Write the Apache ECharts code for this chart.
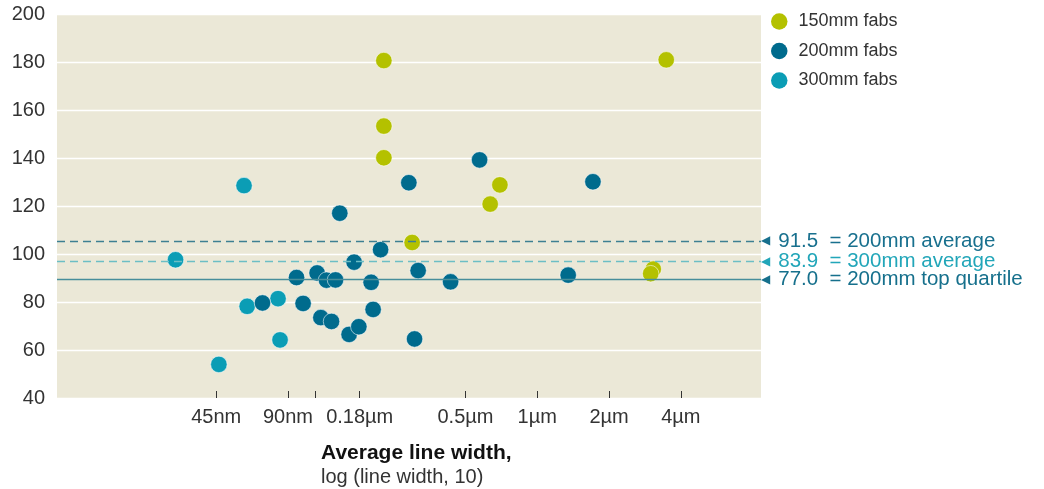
<!DOCTYPE html>
<html>
<head>
<meta charset="utf-8">
<script src="https://cdn.jsdelivr.net/npm/echarts@6/dist/echarts.min.js"></script>
<style>
html,body{margin:0;padding:0;background:#fff;}
#chart{width:1044px;height:489px;}
</style>
</head>
<body>
<div id="chart"></div>
<script>
// Series names
const seriesNames = ['150mm fabs', '200mm fabs', '300mm fabs'];

// Line width (µm) and value pairs per series
const widths150 = [0.2273, 0.2273, 0.2273, 3.475, 0.697, 0.6346, 0.2987, 3.066, 2.99];
const values150 = [180.6, 153.3, 140.1, 180.9, 128.8, 120.8, 104.8, 93.7, 91.8];

const widths200 = [0.5729, 0.2893, 1.712, 0.1485, 0.2202, 0.1705, 0.3165, 1.348, 0.4330, 0.0978,
                   0.1193, 0.1306, 0.1425, 0.2010, 0.0704, 0.1042, 0.1237, 0.1371, 0.2049, 0.1625,
                   0.1785, 0.3057];
const values200 = [139.2, 129.7, 130.1, 117.0, 101.8, 96.6, 93.1, 91.2, 88.4, 90.2,
                   92.1, 89.1, 89.2, 88.2, 79.6, 79.4, 73.5, 71.9, 76.9, 66.5,
                   69.7, 64.6];

const widths300 = [0.0589, 0.0304, 0.0607, 0.0818, 0.0834, 0.0462];
const values300 = [128.5, 97.6, 78.2, 81.4, 64.2, 54.0];

// Reference lines
const refValues = [105.4, 96.9, 89.4];
const refLabels = ['91.5  = 200mm average', '83.9  = 300mm average', '77.0  = 200mm top quartile'];

// X tick marks (µm) and labels
const tickWidths = [0.045, 0.09, 0.1175, 0.18, 0.5, 1, 2, 4];
const tickLabels = ['45nm', '90nm', '', '0.18µm', '0.5µm', '1µm', '2µm', '4µm'];

// Y axis
const yMin = 40, yMax = 200, yInterval = 20;

const colors = ['#b4c100', '#006b8d', '#0b9db5'];
const refLineColors = ['#3d7f92', '#6cbec5', '#478e9b'];
const refTextColors = ['#18708e', '#22a6b9', '#16708c'];
const refLineTypes = [[8, 5], [8, 5], 'solid'];

const FONT = 'Liberation Sans, Arial, sans-serif';

function toPoints(ws, vs) {
  return ws.map((w, i) => [Math.log10(w), vs[i]]);
}
const tickLogs = tickWidths.map(w => Math.log10(w));

function labelFor(v) {
  let best = 0, bd = Infinity;
  tickLogs.forEach((t, i) => { const d = Math.abs(t - v); if (d < bd) { bd = d; best = i; } });
  return bd < 1e-6 ? tickLabels[best] : '';
}

const chart = echarts.init(document.getElementById('chart'), null, {renderer: 'canvas'});

const scatterBase = {
  type: 'scatter',
  symbol: 'circle',
  symbolSize: 16.5,
  itemStyle: {borderColor: 'rgba(255,255,255,0.7)', borderWidth: 0.8, opacity: 1},
  z: 3,
  emphasis: {disabled: true}
};

const option = {
  animation: false,
  textStyle: {fontFamily: FONT},
  title: {
    text: 'Average line width,',
    subtext: 'log (line width, 10)',
    left: 321,
    top: 441,
    padding: 0,
    itemGap: 0,
    textStyle: {fontFamily: FONT, fontSize: 21, fontWeight: 'bold', color: '#111', lineHeight: 24},
    subtextStyle: {fontFamily: FONT, fontSize: 20, color: '#333', lineHeight: 24}
  },
  legend: {
    orient: 'vertical',
    left: 771,
    top: 12.5,
    padding: 0,
    itemWidth: 16.5,
    itemHeight: 16.5,
    itemGap: 11.5,
    icon: 'circle',
    data: seriesNames,
    itemStyle: {borderWidth: 0},
    textStyle: {fontFamily: FONT, fontSize: 18, color: '#333', padding: [0, 0, 0, 6], lineHeight: 17},
    selectedMode: false
  },
  grid: {left: 57, top: 14, width: 704, height: 384, show: true, backgroundColor: '#ebe8d7', borderWidth: 0, containLabel: false},
  xAxis: {
    type: 'value',
    min: -2.0143,
    max: 0.9384,
    splitLine: {show: false},
    axisLine: {show: false},
    axisTick: {show: true, inside: true, length: 7, lineStyle: {color: '#333', width: 1}, customValues: tickLogs},
    axisLabel: {show: true, customValues: tickLogs, formatter: labelFor, fontFamily: FONT, fontSize: 20, color: '#333', margin: 9}
  },
  yAxis: {
    type: 'value',
    min: yMin,
    max: yMax,
    interval: yInterval,
    axisLine: {show: false},
    axisTick: {show: false},
    splitLine: {show: true, lineStyle: {color: '#ffffff', width: 1.3}},
    axisLabel: {fontFamily: FONT, fontSize: 20, color: '#333', margin: 12}
  },
  series: [
    {
      type: 'scatter',
      name: 'refs',
      data: [],
      z: 1,
      silent: true,
      markLine: {
        silent: true,
        symbol: 'none',
        animation: false,
        data: refValues.map((v, i) => ({
          yAxis: v,
          lineStyle: {color: refLineColors[i], width: 1.3, type: refLineTypes[i]},
          label: {
            show: true,
            position: 'end',
            distance: 0,
            formatter: '{t|◀}' + refLabels[i],
            color: refTextColors[i],
            fontFamily: FONT,
            fontSize: 20.5,
            rich: {
              t: {fontFamily: 'DejaVu Sans', fontSize: 12, color: refTextColors[i], padding: [0, 8, 0, 0]}
            }
          }
        }))
      }
    },
    Object.assign({}, scatterBase, {name: seriesNames[2], data: toPoints(widths300, values300), itemStyle: Object.assign({}, scatterBase.itemStyle, {color: colors[2]})}),
    Object.assign({}, scatterBase, {name: seriesNames[1], data: toPoints(widths200, values200), itemStyle: Object.assign({}, scatterBase.itemStyle, {color: colors[1]})}),
    Object.assign({}, scatterBase, {name: seriesNames[0], data: toPoints(widths150, values150), itemStyle: Object.assign({}, scatterBase.itemStyle, {color: colors[0]})})
  ]
};

chart.setOption(option);
</script>
</body>
</html>
